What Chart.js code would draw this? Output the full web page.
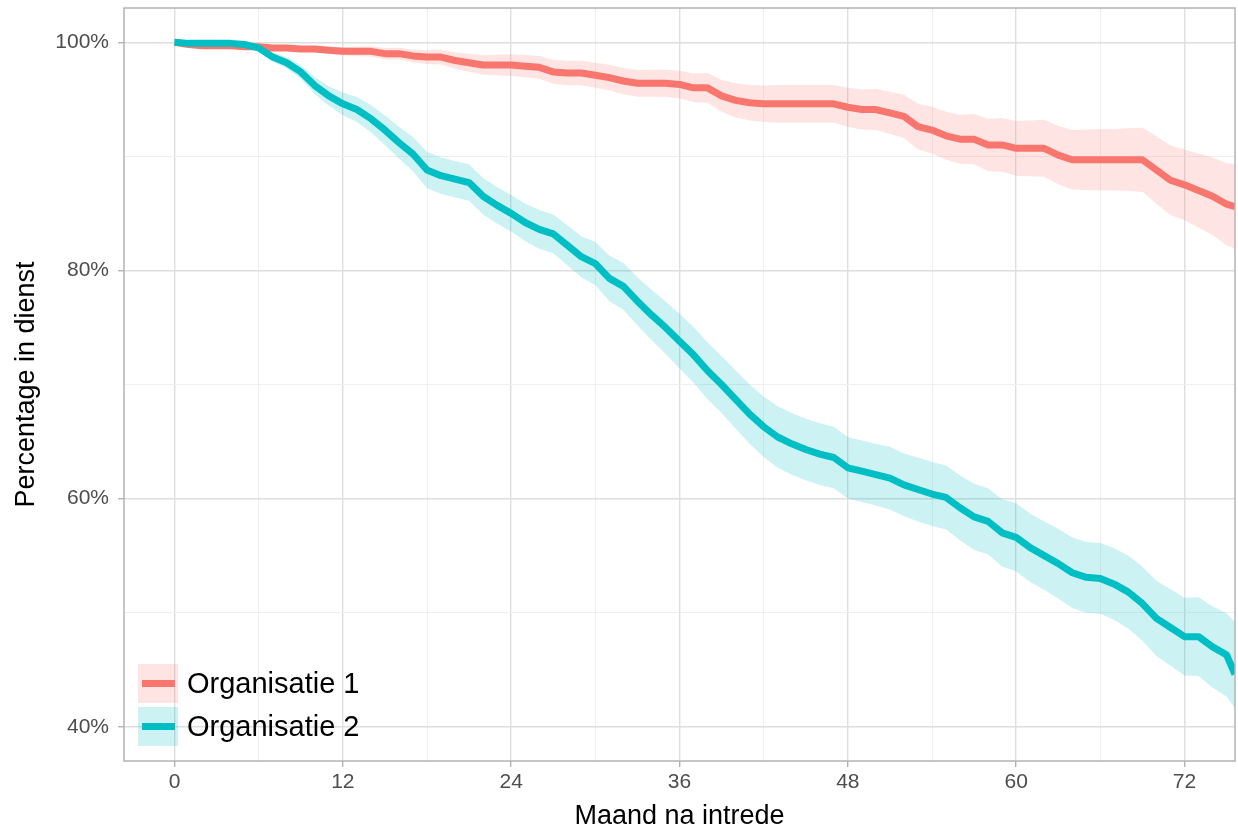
<!DOCTYPE html>
<html>
<head>
<meta charset="utf-8">
<title>Percentage in dienst</title>
<script src="https://cdn.jsdelivr.net/npm/chart.js@4.4.1/dist/chart.umd.min.js"></script>
<style>
  body { margin: 0; background: #fff; }
</style>
</head>
<body>
<canvas id="myChart" width="1238" height="827"></canvas>
<script>
// maanden na intrede (laatste punt = rand van het paneel)
const months = [
  0, 1, 2, 3, 4, 5, 6, 7, 8, 9,
  10, 11, 12, 13, 14, 15, 16, 17, 18, 19,
  20, 21, 22, 23, 24, 25, 26, 27, 28, 29,
  30, 31, 32, 33, 34, 35, 36, 37, 38, 39,
  40, 41, 42, 43, 44, 45, 46, 47, 48, 49,
  50, 51, 52, 53, 54, 55, 56, 57, 58, 59,
  60, 61, 62, 63, 64, 65, 66, 67, 68, 69,
  70, 71, 72, 73, 74, 75, 75.6];

const orgNames = ['Organisatie 1', 'Organisatie 2'];

const org1Survival = [
  100, 99.8, 99.7, 99.7, 99.7, 99.6, 99.6, 99.5, 99.5, 99.4,
  99.4, 99.3, 99.2, 99.2, 99.2, 99.0, 99.0, 98.8, 98.7, 98.7,
  98.4, 98.2, 98.0, 98.0, 98.0, 97.9, 97.8, 97.4, 97.3, 97.3,
  97.1, 96.9, 96.6, 96.4, 96.4, 96.4, 96.3, 96.0, 96.0, 95.3,
  94.9, 94.7, 94.6, 94.6, 94.6, 94.6, 94.6, 94.6, 94.3, 94.1,
  94.1, 93.8, 93.5, 92.6, 92.3, 91.8, 91.5, 91.5, 91.0, 91.0,
  90.7, 90.7, 90.7, 90.1, 89.7, 89.7, 89.7, 89.7, 89.7, 89.7,
  88.8, 87.9, 87.5, 87.0, 86.5, 85.8, 85.6];
const org1Upper = [
  100, 99.85, 99.78, 99.8, 99.8, 99.72, 99.75, 99.68, 99.7, 99.65,
  99.68, 99.62, 99.55, 99.6, 99.65, 99.5, 99.52, 99.36, 99.3, 99.35,
  99.12, 98.98, 98.85, 98.9, 98.95, 98.87, 98.8, 98.45, 98.37, 98.38,
  98.2, 98.02, 97.75, 97.57, 97.58, 97.59, 97.5, 97.25, 97.3, 96.7,
  96.4, 96.25, 96.2, 96.25, 96.25, 96.25, 96.25, 96.25, 96.0, 95.85,
  95.9, 95.65, 95.4, 94.6, 94.35, 93.9, 93.65, 93.7, 93.3, 93.35,
  93.1, 93.15, 93.2, 92.65, 92.3, 92.35, 92.4, 92.4, 92.45, 92.5,
  91.75, 90.95, 90.6, 90.25, 89.9, 89.4, 89.3];
const org1Lower = [
  100, 99.75, 99.62, 99.6, 99.6, 99.48, 99.45, 99.32, 99.3, 99.15,
  99.12, 98.98, 98.85, 98.8, 98.75, 98.5, 98.48, 98.24, 98.1, 98.05,
  97.68, 97.42, 97.15, 97.1, 97.05, 96.93, 96.8, 96.35, 96.23, 96.22,
  96.0, 95.78, 95.45, 95.23, 95.22, 95.21, 95.1, 94.75, 94.7, 93.9,
  93.4, 93.15, 93.0, 92.95, 92.95, 92.95, 92.95, 92.95, 92.6, 92.35,
  92.3, 91.95, 91.6, 90.6, 90.25, 89.7, 89.35, 89.3, 88.7, 88.65,
  88.3, 88.25, 88.2, 87.55, 87.1, 87.05, 87.0, 87.0, 86.95, 86.9,
  85.85, 84.85, 84.4, 83.75, 83.1, 82.2, 81.9];

const org2Survival = [
  100, 99.9, 99.9, 99.9, 99.9, 99.8, 99.5, 98.7, 98.2, 97.4,
  96.2, 95.3, 94.6, 94.1, 93.3, 92.3, 91.2, 90.2, 88.8, 88.3,
  88.0, 87.7, 86.5, 85.7, 85.0, 84.2, 83.6, 83.2, 82.2, 81.2,
  80.6, 79.3, 78.6, 77.3, 76.1, 75.0, 73.8, 72.6, 71.2, 70.0,
  68.7, 67.4, 66.3, 65.4, 64.8, 64.3, 63.9, 63.6, 62.7, 62.4,
  62.1, 61.8, 61.2, 60.8, 60.4, 60.1, 59.2, 58.4, 58.0, 57.0,
  56.6, 55.7, 55.0, 54.3, 53.5, 53.1, 53.0, 52.5, 51.8, 50.8,
  49.5, 48.7, 47.9, 47.9, 47.0, 46.3, 44.6];
const org2Upper = [
  100, 99.95, 99.95, 99.96, 99.97, 99.9, 99.8, 99.1, 98.7, 98.0,
  96.95, 96.15, 95.6, 95.2, 94.5, 93.6, 92.6, 91.7, 90.4, 89.9,
  89.6, 89.3, 88.1, 87.3, 86.6, 85.85, 85.3, 84.9, 83.95, 83.0,
  82.5, 81.3, 80.65, 79.4, 78.3, 77.3, 76.2, 75.05, 73.7, 72.5,
  71.25, 70.0, 68.95, 68.1, 67.5, 67.0, 66.6, 66.3, 65.4, 65.1,
  64.8, 64.55, 63.95, 63.6, 63.2, 62.9, 62.05, 61.3, 60.9, 59.95,
  59.6, 58.7, 58.0, 57.35, 56.6, 56.2, 56.1, 55.65, 55.0, 54.05,
  52.8, 52.05, 51.3, 51.35, 50.55, 49.95, 49.2];
const org2Lower = [
  100, 99.85, 99.85, 99.84, 99.83, 99.7, 99.2, 98.3, 97.7, 96.8,
  95.45, 94.45, 93.6, 93.0, 92.1, 91.0, 89.8, 88.7, 87.2, 86.7,
  86.4, 86.1, 84.9, 84.1, 83.4, 82.55, 81.9, 81.5, 80.45, 79.4,
  78.7, 77.3, 76.55, 75.2, 73.9, 72.7, 71.4, 70.15, 68.7, 67.5,
  66.15, 64.8, 63.65, 62.7, 62.1, 61.6, 61.2, 60.9, 60.0, 59.7,
  59.4, 59.05, 58.45, 58.0, 57.6, 57.3, 56.35, 55.5, 55.1, 54.05,
  53.6, 52.7, 52.0, 51.25, 50.4, 50.0, 49.9, 49.35, 48.6, 47.55,
  46.2, 45.35, 44.5, 44.45, 43.45, 42.65, 41.6];

// as-indeling
const xMajor = [0, 12, 24, 36, 48, 60, 72];
const xMinor = [6, 18, 30, 42, 54, 66];
const yMajor = [40, 60, 80, 100];
const yMinor = [50, 70, 90];

const red = '#F8766D';
const teal = '#00BFC4';
const redBand = 'rgba(248,118,109,0.2)';
const tealBand = 'rgba(0,191,196,0.2)';
const fontFam = "'Liberation Sans', Arial, sans-serif";

function toPoints(ys) {
  return months.map((m, i) => ({ x: m, y: ys[i] }));
}

const panelBorder = {
  id: 'panelBorder',
  afterDatasetsDraw(chart) {
    const { ctx, chartArea: a } = chart;
    ctx.save();
    ctx.strokeStyle = '#B3B3B3';
    ctx.lineWidth = 1.5;
    ctx.strokeRect(a.left, a.top, a.right - a.left, a.bottom - a.top);
    ctx.restore();
  }
};

const insideLegend = {
  id: 'insideLegend',
  afterDraw(chart) {
    const { ctx, chartArea: a } = chart;
    const items = [
      { label: orgNames[0], line: red, band: redBand },
      { label: orgNames[1], line: teal, band: tealBand }
    ];
    ctx.save();
    items.forEach((it, i) => {
      const bx = a.left + 14;
      const by = a.bottom - 97 + i * 43;
      ctx.fillStyle = it.band;
      ctx.fillRect(bx, by, 40, 39);
      ctx.strokeStyle = it.line;
      ctx.lineWidth = 7;
      ctx.beginPath();
      ctx.moveTo(bx + 4, by + 19.5);
      ctx.lineTo(bx + 37, by + 19.5);
      ctx.stroke();
      ctx.fillStyle = '#000';
      ctx.font = '29px ' + fontFam;
      ctx.textBaseline = 'middle';
      ctx.textAlign = 'left';
      ctx.fillText(it.label, bx + 49, by + 21);
    });
    ctx.restore();
  }
};

const ctx = document.getElementById('myChart');

new Chart(ctx, {
  type: 'line',
  data: {
    datasets: [
      { label: orgNames[0], data: toPoints(org1Survival), borderColor: red, borderWidth: 7,
        pointRadius: 0, tension: 0, fill: false, order: 2, clip: 0, borderJoinStyle: 'round' },
      { label: orgNames[1], data: toPoints(org2Survival), borderColor: teal, borderWidth: 7,
        pointRadius: 0, tension: 0, fill: false, order: 1, clip: 0, borderJoinStyle: 'round' },
      { label: 'o1 lo', data: toPoints(org1Lower), borderColor: 'rgba(0,0,0,0)', borderWidth: 0,
        pointRadius: 0, tension: 0, fill: false, order: 6, clip: 0 },
      { label: 'o1 hi', data: toPoints(org1Upper), borderColor: 'rgba(0,0,0,0)', borderWidth: 0,
        backgroundColor: redBand, pointRadius: 0, tension: 0, fill: '-1', order: 5, clip: 0 },
      { label: 'o2 lo', data: toPoints(org2Lower), borderColor: 'rgba(0,0,0,0)', borderWidth: 0,
        pointRadius: 0, tension: 0, fill: false, order: 4, clip: 0 },
      { label: 'o2 hi', data: toPoints(org2Upper), borderColor: 'rgba(0,0,0,0)', borderWidth: 0,
        backgroundColor: tealBand, pointRadius: 0, tension: 0, fill: '-1', order: 3, clip: 0 }
    ]
  },
  options: {
    responsive: false,
    animation: false,
    layout: { padding: { top: 8, right: 3, left: 0, bottom: 0 } },
    plugins: { legend: { display: false }, tooltip: { enabled: false } },
    scales: {
      x: {
        type: 'linear',
        min: -3.6,
        max: 75.6,
        afterFit(s) {
          s.height = 66;
          s.paddingLeft = 0;
          s.paddingRight = 0;
        },
        afterBuildTicks(s) {
          s.ticks = xMajor.concat(xMinor).sort((a, b) => a - b).map(v => ({ value: v }));
        },
        ticks: {
          autoSkip: false,
          maxRotation: 0,
          padding: 3,
          color: '#4D4D4D',
          font: { family: fontFam, size: 21 },
          callback: v => xMajor.includes(v) ? String(v) : ''
        },
        grid: {
          color: c => xMajor.includes(c.tick.value) ? '#DEDEDE' : '#EFEFEF',
          lineWidth: c => xMajor.includes(c.tick.value) ? 1.4 : 1,
          tickColor: c => xMajor.includes(c.tick.value) ? '#B3B3B3' : 'rgba(0,0,0,0)',
          tickLength: 6,
          tickWidth: 1.4
        },
        border: { display: false },
        title: {
          display: true,
          text: 'Maand na intrede',
          color: '#000',
          font: { family: fontFam, size: 27, lineHeight: 0.8 },
          padding: { top: 0, bottom: 0 }
        }
      },
      y: {
        type: 'linear',
        min: 37,
        max: 103,
        afterFit(s) {
          s.width = 124;
          s.paddingTop = 0;
          s.paddingBottom = 0;
        },
        afterBuildTicks(s) {
          s.ticks = yMajor.concat(yMinor).sort((a, b) => a - b).map(v => ({ value: v }));
        },
        ticks: {
          autoSkip: false,
          padding: 9,
          color: '#4D4D4D',
          font: { family: fontFam, size: 21 },
          callback: v => yMajor.includes(v) ? v + '%' : ''
        },
        grid: {
          color: c => yMajor.includes(c.tick.value) ? '#DEDEDE' : '#EFEFEF',
          lineWidth: c => yMajor.includes(c.tick.value) ? 1.4 : 1,
          tickColor: c => yMajor.includes(c.tick.value) ? '#B3B3B3' : 'rgba(0,0,0,0)',
          tickLength: 6,
          tickWidth: 1.4
        },
        border: { display: false },
        title: {
          display: true,
          text: 'Percentage in dienst',
          color: '#000',
          font: { family: fontFam, size: 27, lineHeight: 1 },
          padding: { top: 13, bottom: 0 }
        }
      }
    }
  },
  plugins: [panelBorder, insideLegend]
});
</script>
</body>
</html>
